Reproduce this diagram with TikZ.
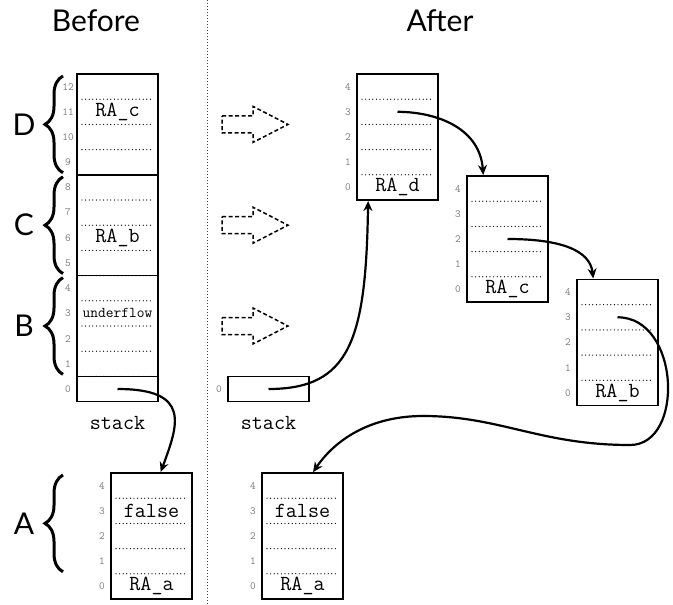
\documentclass[tikz,border=0pt]{standalone}
\usepackage{fontspec}
\setmainfont{Lato}
\usepackage{xcolor}
\usetikzlibrary{calc,arrows.meta,decorations.pathreplacing}
\definecolor{ink}{HTML}{000000}
\definecolor{muted}{HTML}{7A7A7A}

% one frame: name, left x, top y, number of rows
\newcommand{\stackframe}[4]{%
  \pgfmathsetmacro{\boxh}{#4*25.2}
  \pgfmathtruncatemacro{\lastrow}{#4-1}
  \node[frame,minimum height=\boxh pt,anchor=north west] (#1) at (#2,#3) {};
  \foreach \i in {0,...,\lastrow}{
    \pgfmathsetmacro{\yc}{#3+(#4-1-\i+0.5)*25.2}
    \coordinate (#1-\i) at (#2+40.5,\yc);
    \node[idx] (#1-n\i) at (#2-9,\yc) {\i};
  }
  \ifnum#4>1
    \foreach \k in {1,...,\lastrow}
      \draw[sep] (#2+5,#3+\k*25.2) -- (#2+77,#3+\k*25.2);
  \fi
}

\begin{document}
\begin{tikzpicture}[x=1pt,y=-1pt,
  frame/.style={draw=ink,line width=1.4pt,inner sep=0pt,outer sep=0pt,minimum width=81pt},
  sep/.style={draw=ink,line width=1.3pt,line cap=round,dash pattern=on 0pt off 3.6pt},
  idx/.style={font=\fontsize{11}{11}\selectfont\ttfamily,text=muted},
  celltext/.style={font=\fontsize{21.5}{21.5}\selectfont\ttfamily,text=ink},
  head/.style={font=\fontsize{30}{30}\selectfont,anchor=base,text=ink},
  grp/.style={font=\fontsize{30}{30}\selectfont,text=ink},
  brace/.style={decorate,decoration={brace,amplitude=18pt},line width=3pt,draw=ink},
  ptr/.style={-{Stealth[length=10pt,width=9pt]},line width=2.2pt,draw=ink,shorten >=1pt},
  ghost/.style={draw=ink,line width=1.5pt,dash pattern=on 4pt off 2.5pt},
  divider/.style={draw=ink!75,line width=1pt,dash pattern=on 1pt off 2pt}]
  \useasboundingbox (0,0) rectangle (673,605);

  \node[head] (before) at (96,31) {Before};
  \node[head] (after) at (440,31) {After};
  \draw[divider] (207,0) -- (207,605);

  % before
  \stackframe{bs}{77}{74}{13}
  \foreach \k in {4,8,12}
    \draw[line width=1.4pt,draw=ink] (77,74+\k*25.2) -- (158,74+\k*25.2);
  \node[celltext] (racL) at (bs-11) {RA\_c};
  \node[celltext] (rabL) at (bs-6) {RA\_b};
  \node[celltext,font=\fontsize{15}{15}\selectfont\ttfamily] (uf) at (bs-3) {underflow};
  \node[celltext] (stkL) at (117.5,423) {stack};

  \draw[brace] (63,172.8) -- (63,76);
  \draw[brace] (63,273.6) -- (63,176.8);
  \draw[brace] (63,374.4) -- (63,277.6);
  \draw[brace] (63,571.8) -- (63,475);
  \node[grp] (D) at (24,124.4) {D};
  \node[grp] (C) at (24,225.2) {C};
  \node[grp] (B) at (24,326) {B};
  \node[grp] (A) at (24,523.4) {A};

  \stackframe{aa}{111}{473}{5}
  \node[celltext] (faL) at (aa-3) {false};
  \node[celltext] (raaL) at (aa-0) {RA\_a};

  % after
  \foreach \yy in {124.4,225.2,326}
    \draw[ghost] (222,\yy-8.5) -- (253,\yy-8.5) -- (253,\yy-18) -- (288,\yy)
      -- (253,\yy+18) -- (253,\yy+8.5) -- (222,\yy+8.5) -- cycle;

  \stackframe{st}{228}{376.4}{1}
  \node[celltext] (stkR) at (268.5,423) {stack};
  \stackframe{rd}{357}{74}{5}
  \node[celltext] (radR) at (rd-0) {RA\_d};
  \stackframe{rc}{467}{176}{5}
  \node[celltext] (racR) at (rc-0) {RA\_c};
  \stackframe{rb}{577}{279.5}{5}
  \node[celltext] (rabR) at (rb-0) {RA\_b};
  \stackframe{ab}{262}{473}{5}
  \node[celltext] (faR) at (ab-3) {false};
  \node[celltext] (raaR) at (ab-0) {RA\_a};

  % pointers
  \draw[ptr] (bs-0) .. controls (192,389) and (178,425) .. (aa.82);
  \draw[ptr] (st-0) .. controls (350,389) and (366,340) .. (rd.245);
  \draw[ptr] (rd-3) .. controls (440,112) and (480,130) .. (rc.111);
  \draw[ptr] (rc-2) .. controls (560,239) and (590,250) .. (rb.111);
  \draw[ptr] (rb-3) .. controls (680,317) and (685,445) .. (630,445)
    .. controls (540,445) and (500,416) .. (423,416)
    .. controls (370,416) and (335,440) .. (ab.81);
\end{tikzpicture}
\end{document}
